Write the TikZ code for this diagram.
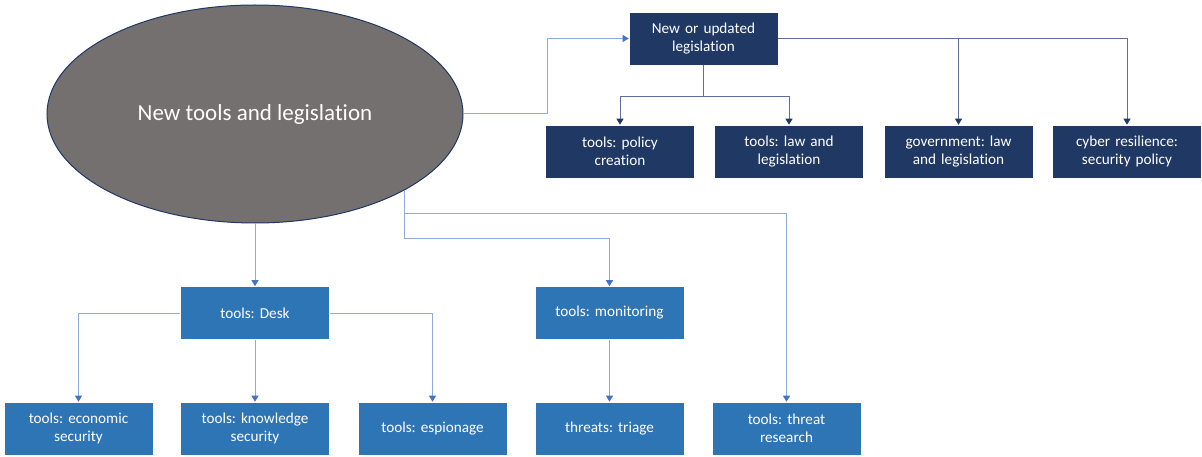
\documentclass[tikz,border=0pt]{standalone}
\usepackage{fontspec}
\setmainfont{Carlito}[Ligatures=NoCommon]
\frenchspacing
\usetikzlibrary{arrows.meta,shapes.geometric}
\definecolor{navy}{RGB}{32,56,100}
\definecolor{midblue}{RGB}{46,117,182}
\definecolor{ovalgray}{RGB}{117,112,112}
\definecolor{linkblue}{RGB}{143,170,220}
\definecolor{tipblue}{RGB}{68,114,196}
\definecolor{linknavy}{RGB}{95,110,150}

\begin{document}
\begin{tikzpicture}[x=1pt,y=-1pt,
  box/.style={rectangle, minimum width=149pt, minimum height=53pt, inner sep=2pt,
    text width=142pt, align=center, text=white,
    font=\fontsize{15.2}{18.5}\selectfont, draw=white, line width=0.6pt},
  darkbox/.style={box, fill=navy},
  bluebox/.style={box, fill=midblue},
  lightlink/.style={draw=linkblue, line width=1pt,
    -{Triangle[width=7pt,length=6pt,color=tipblue]}},
  navylink/.style={draw=linknavy, line width=1pt,
    -{Triangle[width=7pt,length=6pt,color=navy]}},
]
% canvas
\fill[white] (0,0) rectangle (1202,457);
\useasboundingbox (0,0) rectangle (1202,457);

% central oval
\node[ellipse, fill=ovalgray, draw=navy, line width=1pt, minimum width=416pt,
  minimum height=218pt, inner sep=0pt, text=white,
  font=\fontsize{23}{27}\selectfont] (ell) at (255,114) {New tools and legislation};

% legislation branch
\node[darkbox] (nol) at (703.5,38.5) {New or updated\\legislation};
\node[darkbox] (pol) at (620,151.5) {tools: policy\\creation};
\node[darkbox] (law) at (789,151.5) {tools: law and\\legislation};
\node[darkbox] (gov) at (958.5,151.5) {government: law\\and legislation};
\node[darkbox] (cyb) at (1127,151.5) {cyber resilience:\\security policy};

% tools branch
\node[bluebox] (desk) at (255,313) {tools: Desk};
\node[bluebox] (mon) at (609.5,313) {tools: monitoring};
\node[bluebox] (eco) at (78.5,428.5) {tools: economic\\security};
\node[bluebox] (know) at (255,428.5) {tools: knowledge\\security};
\node[bluebox] (esp) at (432.5,428.5) {tools: espionage};
\node[bluebox] (tri) at (609.5,428.5) {threats: triage};
\node[bluebox] (thr) at (786.5,428.5) {tools: threat\\research};

% connectors: legislation
\draw[lightlink] (ell.east) -- ++(84,0) |- (nol.west);
\draw[navylink] (nol.south) -- ++(0,31) -| (pol.north);
\draw[navylink] (nol.south) -- ++(0,31) -| (law.north);
\draw[navylink] (nol.east) -| (gov.north);
\draw[navylink] (nol.east) -| (cyb.north);

% connectors: tools
\draw[lightlink] (ell.south) -- (desk.north);
\draw[lightlink] (desk.west) -| (eco.north);
\draw[lightlink] (desk.south) -- (know.north);
\draw[lightlink] (desk.east) -| (esp.north);
\coordinate (ep) at (ell.-27.4);
\coordinate (busA) at (0,214);
\coordinate (busB) at (0,239);
\draw[lightlink] (ep) -- (ep |- busB) -| (mon.north);
\draw[lightlink] (ep) -- (ep |- busA) -| (thr.north);
\draw[lightlink] (mon.south) -- (tri.north);
\end{tikzpicture}
\end{document}
